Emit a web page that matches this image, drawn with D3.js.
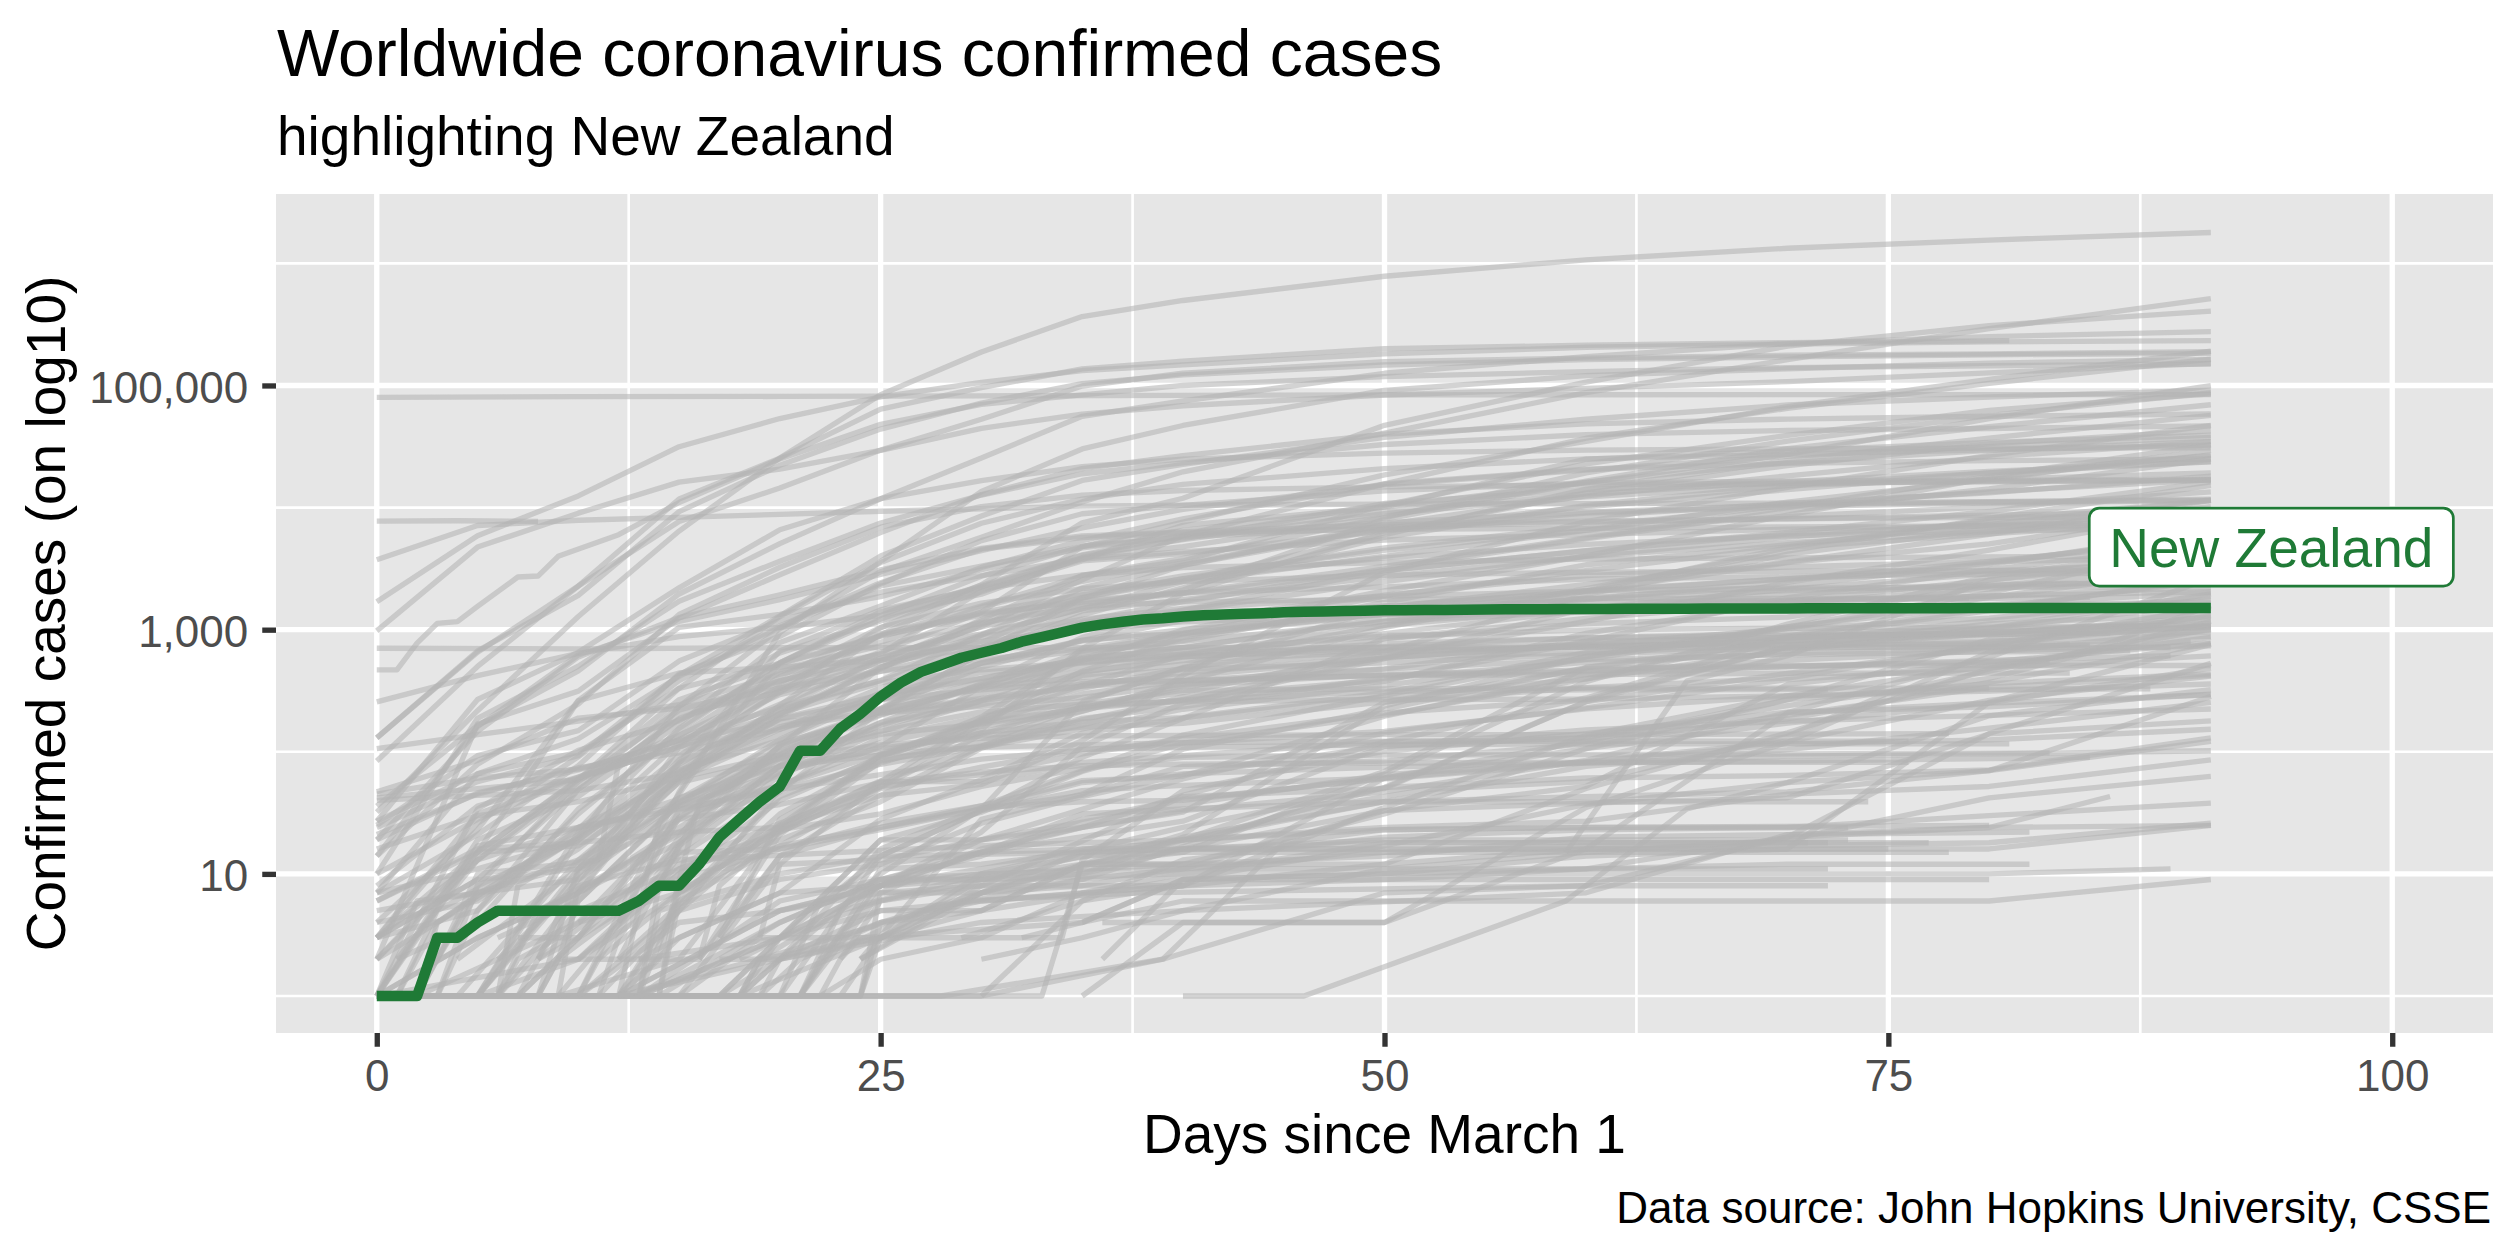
<!DOCTYPE html>
<html>
<head>
<meta charset="UTF-8">
<title>Worldwide coronavirus confirmed cases</title>
<style>
  body { margin: 0; background: #fff; }
  svg { display: block; font-family: 'Liberation Sans', Arial, Helvetica, sans-serif; }
</style>
</head>
<body>
<svg id="chart" width="2520" height="1260"></svg>

<script src="https://cdn.jsdelivr.net/npm/d3@7/dist/d3.min.js"></script>
<script>
  // ---- data: [day since March 1, confirmed cases] ----
  var countries = [
    "US","Brazil","Russia","United Kingdom","Spain","Italy","India","France","Germany","Peru",
    "Turkey","Iran","China","Chile","Canada","Mexico","Saudi Arabia","Pakistan","Belgium","Qatar",
    "Netherlands","Bangladesh","Belarus","Ecuador","Sweden","Singapore","UAE","Portugal","Switzerland","South Africa",
    "Colombia","Kuwait","Indonesia","Ireland","Poland","Ukraine","Egypt","Romania","Philippines","Israel",
    "Japan","Dominican Republic","Austria","Argentina","Afghanistan","Korea, South","Panama","Denmark","Serbia","Kazakhstan",
    "Czechia","Oman","Bahrain","Nigeria","Algeria","Norway","Malaysia","Morocco","Moldova","Ghana",
    "Armenia","Bolivia","Australia","Finland","Cameroon","Iraq","Azerbaijan","Honduras","Sudan","Guatemala",
    "Hungary","Tajikistan","Guinea","Senegal","Djibouti","Thailand","Greece","Uzbekistan","Bosnia","Bulgaria",
    "Croatia","El Salvador","Gabon","Haiti","Cuba","Estonia","Iceland","Lithuania","Kenya","Sri Lanka",
    "Slovakia","Slovenia","Venezuela","Lebanon","Mali","Latvia","Albania","Costa Rica","Georgia","Jordan",
    "Diamond Princess","San Marino","Malta","Taiwan","Mauritius","Vietnam","Montenegro","Uganda","Rwanda","Mongolia",
    "Cambodia","Brunei","Trinidad and Tobago","Bahamas","Monaco","Barbados","Liechtenstein","Bhutan","Fiji","Seychelles",
    "Holy See","Timor-Leste","Belize","Laos","Papua New Guinea","Botswana","Namibia","Burundi","Gambia","Antigua and Barbuda",
    "Grenada","Western Sahara","MS Zaandam","Saint Kitts and Nevis","Dominica","Ethiopia","Zambia","Nepal","Madagascar","Niger",
    "Burkina Faso","Cyprus","Paraguay","Uruguay","Andorra","Jamaica","Tanzania","Togo","Liberia","Kyrgyzstan",
    "Tunisia","Kosovo","Luxembourg","North Macedonia","Somalia","Maldives","Congo (Kinshasa)","Cote d'Ivoire","Equatorial Guinea","Sierra Leone",
    "Chad","Central African Republic","South Sudan","Eswatini","Mozambique","Mauritania","Syria","Libya","Yemen","Burma",
    "Guinea-Bissau","Congo (Brazzaville)","Cabo Verde","Sao Tome and Principe","Malawi","Suriname","Nicaragua","Eritrea","Angola","Saint Vincent",
    "Saint Lucia","Guyana","Republic of Korea","Others"
  ];

  var countryCases = [
    [[0,32],[5,217],[10,1281],[15,6421],[20,25489],[25,83836],[30,188172],[35,366667],[40,496535],[50,784326],[60,1069424],[70,1329260],[80,1551853],[91,1790191]],
    [[0,2],[5,13],[10,52],[15,234],[20,1021],[25,2985],[30,5717],[35,11130],[40,19638],[50,40743],[60,87187],[70,162699],[80,291579],[91,514849]],
    [[0,2],[10,20],[15,93],[20,306],[25,1036],[30,2337],[35,7497],[40,11917],[50,47121],[60,106498],[70,209688],[80,308705],[91,405843]],
    [[0,36],[5,164],[10,460],[15,1960],[20,5067],[25,11812],[30,25481],[35,55949],[40,74605],[50,125856],[60,172481],[70,220449],[80,250908],[91,276156]],
    [[0,84],[5,500],[10,2277],[15,11748],[20,25374],[25,64059],[30,95923],[35,136675],[40,158273],[50,200210],[60,213435],[70,224350],[81,232555]],
    [[0,1694],[5,5883],[10,12462],[15,31506],[20,53578],[25,80589],[30,105792],[35,132547],[40,147577],[50,181228],[60,205463],[70,218268],[80,227364],[91,232997]],
    [[0,3],[5,31],[10,62],[15,137],[20,330],[25,657],[30,1397],[35,4778],[40,7600],[50,18539],[60,34863],[70,67161],[80,112028],[91,190609]],
    [[0,130],[5,653],[10,2281],[15,7699],[20,14459],[25,29551],[30,52827],[35,98984],[40,125931],[50,156480],[60,167299],[70,176782],[80,181700],[91,189220]],
    [[0,130],[5,670],[10,1908],[15,9257],[20,22213],[25,43938],[30,71808],[35,103374],[40,122171],[50,147065],[60,163009],[70,171324],[80,178473],[91,183494]],
    [[5,1],[10,11],[15,86],[20,318],[25,580],[30,1065],[35,2561],[40,5897],[50,15628],[60,36976],[70,65015],[80,104020],[91,164476]],
    [[10,1],[15,47],[20,947],[25,3629],[30,13531],[35,30217],[40,47029],[50,90980],[60,120204],[70,137115],[80,152587],[91,163103]],
    [[0,978],[5,4747],[10,9000],[15,16169],[20,20610],[25,29406],[30,44605],[35,58226],[40,68192],[50,83505],[60,94640],[70,107603],[80,126949],[91,151466]],
    [[0,79968],[10,80932],[20,81305],[30,82279],[40,82941],[50,83817],[60,83956],[70,84010],[80,84063],[91,84128]],
    [[2,1],[3,4],[10,23],[15,156],[20,537],[25,1306],[30,2738],[35,4815],[40,6501],[50,10088],[60,16023],[70,27219],[80,53617],[91,99688]],
    [[0,24],[5,57],[10,93],[15,424],[20,1302],[25,4018],[30,8527],[35,16667],[40,22559],[50,37658],[60,52865],[70,69156],[80,80493],[91,91681]],
    [[0,5],[5,7],[10,12],[15,82],[20,203],[25,475],[30,1215],[35,2785],[40,3844],[50,8261],[60,19224],[70,35022],[80,56594],[91,87512]],
    [[1,1],[3,5],[10,21],[15,118],[20,344],[25,900],[30,1563],[35,2752],[40,3651],[50,10484],[60,22753],[70,39048],[80,62545],[91,85261]],
    [[0,4],[5,6],[10,20],[15,237],[20,646],[25,1179],[30,2039],[35,3864],[40,4788],[50,8418],[60,16473],[70,30334],[80,45898],[91,69496]],
    [[0,2],[5,169],[10,314],[15,1243],[20,2815],[25,6235],[30,12775],[35,20814],[40,26667],[50,39983],[60,48519],[70,53081],[80,55983],[91,58381]],
    [[0,1],[5,15],[10,262],[15,442],[20,494],[25,562],[30,781],[35,1832],[40,2512],[50,6015],[60,14096],[70,24314],[80,37097],[91,56910]],
    [[0,10],[5,188],[10,503],[15,1708],[20,3640],[25,7469],[30,12667],[35,18926],[40,23249],[50,32838],[60,39512],[70,42788],[80,44449],[91,46647]],
    [[7,3],[10,3],[15,10],[20,24],[25,44],[30,54],[35,123],[40,424],[50,2948],[60,7667],[70,14657],[80,26738],[91,47153]],
    [[0,1],[2,6],[10,9],[15,36],[20,76],[25,94],[30,152],[35,700],[40,1981],[50,6264],[60,13181],[70,22052],[80,33371],[91,42556]],
    [[0,6],[5,15],[10,17],[15,58],[20,532],[25,1403],[30,2240],[35,3747],[40,7161],[50,10128],[60,24934],[70,29071],[80,34151],[91,39098]],
    [[0,14],[5,161],[10,620],[15,1167],[20,1763],[25,2840],[30,4435],[35,6830],[40,9685],[50,15322],[60,20302],[70,26322],[80,31523],[91,37542]],
    [[0,106],[5,138],[10,178],[15,243],[20,432],[25,631],[30,926],[35,1481],[40,2108],[50,8014],[60,16169],[70,23336],[80,29364],[91,34884]],
    [[0,21],[5,45],[10,74],[15,98],[20,153],[25,333],[30,664],[35,1799],[40,3360],[50,7265],[60,12481],[70,18198],[80,26004],[91,34557]],
    [[1,2],[5,13],[10,59],[15,331],[20,1280],[25,3544],[30,7443],[35,11730],[40,15472],[50,20863],[60,25045],[70,27268],[80,29660],[91,32500]],
    [[0,27],[5,268],[10,652],[15,2200],[20,6575],[25,11811],[30,16605],[35,21657],[40,24900],[50,27944],[60,29586],[70,30251],[80,30618],[91,30871]],
    [[4,1],[10,13],[15,62],[20,240],[25,927],[30,1353],[35,1686],[40,2003],[50,3300],[60,5647],[70,10015],[80,18003],[91,32683]],
    [[5,1],[10,9],[15,57],[20,196],[25,491],[30,906],[35,1485],[40,2473],[50,3977],[60,6507],[70,11063],[80,16935],[91,29383]],
    [[0,45],[5,61],[10,72],[15,123],[20,176],[25,208],[30,266],[35,556],[40,993],[50,2080],[60,4024],[70,8688],[80,17568],[91,27043]],
    [[1,2],[5,4],[10,34],[15,134],[20,450],[25,790],[30,1528],[35,2491],[40,3512],[50,6760],[60,10118],[70,14032],[80,19189],[91,26473]],
    [[0,1],[5,19],[10,43],[15,169],[20,785],[25,1564],[30,3235],[35,5364],[40,8089],[50,15652],[60,20612],[70,22996],[80,24200],[91,24990]],
    [[3,1],[5,5],[10,31],[15,150],[20,536],[25,1221],[30,2311],[35,4102],[40,5955],[50,9287],[60,12877],[70,16326],[80,19739],[91,23786]],
    [[2,1],[11,1],[12,3],[15,14],[20,47],[25,218],[30,645],[35,1319],[40,2203],[50,5710],[60,10406],[70,15232],[80,19230],[91,23672]],
    [[0,2],[5,15],[10,60],[15,126],[20,294],[25,456],[30,710],[35,1173],[40,1699],[50,3144],[60,5537],[70,9400],[80,14229],[91,24985]],
    [[0,3],[5,9],[10,49],[15,184],[20,367],[25,906],[30,2245],[35,4057],[40,5467],[50,8936],[60,12240],[70,15131],[80,17036],[91,19257]],
    [[0,3],[5,5],[10,49],[15,187],[20,380],[25,636],[30,2084],[35,3660],[40,4195],[50,6459],[60,8488],[70,10794],[80,13221],[91,18086]],
    [[0,7],[5,21],[10,77],[15,433],[20,883],[25,2369],[30,5358],[35,8904],[40,10408],[50,13713],[60,15946],[70,16444],[80,16659],[91,17071]],
    [[0,256],[5,420],[10,639],[15,878],[20,1046],[25,1307],[30,1953],[35,3906],[40,5530],[50,10797],[60,14088],[70,15777],[80,16385],[91,16804]],
    [[0,1],[6,1],[8,5],[15,21],[20,112],[25,488],[30,1109],[35,1828],[40,2620],[50,4680],[60,6972],[70,10347],[80,13477],[91,16908]],
    [[0,14],[5,79],[10,246],[15,1332],[20,3244],[25,6909],[30,10180],[35,12640],[40,13806],[50,14795],[60,15402],[70,15833],[80,16269],[91,16731]],
    [[2,1],[5,8],[10,19],[15,79],[20,225],[25,589],[30,1054],[35,1628],[40,1975],[50,3031],[60,4428],[70,6265],[80,9283],[91,16214]],
    [[0,1],[6,1],[10,7],[15,22],[20,24],[25,94],[30,174],[35,423],[40,521],[50,1092],[60,2171],[70,4402],[80,8145],[91,15205]],
    [[0,3736],[5,7134],[10,7869],[15,8320],[20,8799],[25,9332],[30,9786],[35,10284],[40,10450],[50,10674],[60,10774],[70,10874],[80,11110],[91,11503]],
    [[9,1],[10,8],[15,109],[20,245],[25,558],[30,1181],[35,1988],[40,2752],[50,4467],[60,6532],[70,8448],[80,10116],[91,13463]],
    [[0,4],[5,23],[10,264],[15,1044],[20,1337],[25,1862],[30,3107],[35,4681],[40,5830],[50,7515],[60,9158],[70,10513],[80,11182],[91,11699]],
    [[5,1],[10,19],[15,72],[20,222],[25,384],[30,900],[35,2200],[40,3380],[50,6630],[60,9009],[70,10176],[80,10957],[91,11412]],
    [[12,4],[15,33],[20,53],[25,111],[30,343],[35,662],[40,812],[50,1676],[60,3402],[70,4975],[80,7234],[91,11571]],
    [[0,3],[5,26],[10,91],[15,383],[20,1047],[25,2279],[30,3308],[35,4822],[40,5732],[50,6900],[60,7579],[70,8095],[80,8647],[91,9302]],
    [[0,6],[5,16],[10,18],[15,22],[20,52],[25,131],[30,192],[35,331],[40,484],[50,1508],[60,2348],[70,3573],[80,6043],[91,11437]],
    [[0,47],[5,85],[10,189],[15,228],[20,332],[25,458],[30,569],[35,700],[40,925],[50,1881],[60,3040],[70,4774],[80,7888],[91,11398]],
    [[0,1],[8,1],[9,2],[16,2],[17,8],[20,22],[25,51],[30,139],[35,232],[40,305],[50,665],[60,1932],[70,4151],[80,6677],[91,10162]],
    [[0,1],[5,17],[10,24],[15,60],[20,139],[25,302],[30,716],[35,1423],[40,1761],[50,2718],[60,4006],[70,5723],[80,7542],[91,9394]],
    [[0,19],[5,147],[10,598],[15,1256],[20,1926],[25,3084],[30,4641],[35,5865],[40,6314],[50,7199],[60,7738],[70,8099],[80,8309],[90,8437]],
    [[0,25],[5,93],[10,149],[15,553],[20,1183],[25,2031],[30,2766],[35,3793],[40,4346],[50,5425],[60,6002],[70,6656],[80,7059],[91,7819]],
    [[1,1],[8,1],[9,2],[10,6],[15,37],[20,96],[25,225],[30,638],[35,1141],[40,1448],[50,3046],[60,4423],[70,6063],[80,7214],[91,7807]],
    [[7,1],[10,3],[15,29],[20,94],[25,199],[30,353],[35,864],[40,1438],[50,2472],[60,3980],[70,5154],[80,6340],[91,8360]],
    [[11,2],[15,7],[20,23],[25,93],[30,161],[35,214],[40,378],[50,1042],[60,2074],[70,4700],[80,6096],[91,7881]],
    [[0,1],[12,1],[14,26],[16,78],[20,160],[25,265],[30,532],[35,822],[40,937],[50,1339],[60,2066],[70,3538],[80,5041],[91,9492]],
    [[9,2],[15,11],[20,19],[25,39],[30,107],[35,183],[40,268],[50,598],[60,1167],[70,2437],[80,4481],[91,9592]],
    [[0,27],[5,66],[10,128],[15,414],[20,1072],[25,2423],[30,4559],[35,5687],[40,6203],[50,6619],[60,6766],[70,6941],[80,7079],[91,7195]],
    [[0,3],[5,15],[10,59],[15,267],[20,521],[25,880],[30,1384],[35,1927],[40,2605],[50,3868],[60,4995],[70,5880],[80,6443],[91,6859]],
    [[5,1],[10,2],[15,10],[20,40],[25,91],[30,193],[35,650],[40,803],[50,1163],[60,1832],[70,2267],[80,3529],[91,5904]],
    [[0,19],[5,46],[10,71],[15,124],[20,233],[25,382],[30,694],[35,1031],[40,1279],[50,1539],[60,2085],[70,2603],[80,3404],[91,6439]],
    [[0,3],[5,9],[10,11],[15,28],[20,65],[25,165],[30,298],[35,584],[40,926],[50,1436],[60,1766],[70,2519],[80,3631],[91,5494]],
    [[10,2],[15,12],[20,26],[25,52],[30,172],[35,298],[40,382],[50,477],[60,804],[70,1830],[80,3100],[91,5094]],
    [[12,1],[18,1],[19,2],[25,3],[30,7],[35,12],[40,15],[50,66],[60,375],[70,1111],[80,2728],[91,4800]],
    [[12,1],[15,6],[20,17],[25,24],[30,36],[35,70],[40,137],[50,289],[60,599],[70,1052],[80,2001],[91,5087]],
    [[3,2],[5,7],[10,13],[15,39],[20,103],[25,226],[30,492],[35,817],[40,1190],[50,1916],[60,2775],[70,3263],[80,3607],[91,3876]],
    [[59,15],[65,379],[70,612],[80,2551],[91,4013]],
    [[12,1],[18,1],[19,2],[25,8],[30,22],[35,111],[40,250],[50,579],[60,1495],[70,2146],[80,2863],[91,3844]],
    [[1,1],[3,4],[10,24],[15,36],[20,67],[25,119],[30,175],[35,226],[40,265],[50,377],[60,933],[70,1709],[80,2544],[91,3645]],
    [[17,1],[20,3],[25,14],[30,33],[35,90],[40,187],[50,846],[60,1120],[70,1268],[80,2270],[91,3354]],
    [[0,42],[5,50],[10,59],[15,114],[20,411],[25,1045],[30,1651],[35,2169],[40,2473],[50,2792],[60,2954],[70,3009],[80,3037],[91,3081]],
    [[0,7],[5,66],[10,99],[15,331],[20,530],[25,892],[30,1314],[35,1735],[40,2011],[50,2245],[60,2591],[70,2716],[80,2850],[89,2915]],
    [[14,1],[15,6],[20,43],[25,88],[30,181],[35,457],[40,865],[50,1565],[60,2039],[70,2612],[80,3036],[91,3554]],
    [[4,2],[10,11],[15,38],[20,126],[25,305],[30,533],[35,673],[40,901],[50,1342],[60,1781],[70,2090],[80,2338],[91,2510]],
    [[7,4],[10,7],[15,67],[20,187],[25,293],[30,399],[35,549],[40,635],[50,929],[60,1447],[70,1965],[80,2292],[91,2513]],
    [[0,7],[5,11],[10,19],[15,69],[20,206],[25,495],[30,867],[35,1222],[40,1495],[50,1871],[60,2076],[70,2187],[80,2228],[88,2244]],
    [[17,1],[20,3],[25,19],[30,32],[35,69],[40,117],[50,201],[60,395],[70,889],[80,1498],[91,2517]],
    [[12,1],[20,5],[25,7],[30,16],[35,24],[40,44],[50,120],[60,276],[70,863],[80,1432],[91,2655]],
    [[18,2],[25,8],[30,15],[35,24],[40,33],[50,47],[60,85],[70,209],[80,596],[91,2640]],
    [[10,4],[15,7],[20,25],[25,57],[30,186],[35,350],[40,620],[50,1087],[60,1501],[70,1741],[80,1887],[91,2045]],
    [[0,1],[2,1],[3,2],[5,10],[11,13],[12,79],[15,205],[20,306],[25,538],[30,715],[35,1097],[40,1258],[50,1552],[60,1689],[70,1733],[85,1840]],
    [[0,1],[5,34],[10,103],[15,180],[20,473],[25,737],[30,1135],[35,1562],[40,1689],[50,1771],[60,1797],[70,1802],[79,1803]],
    [[0,1],[7,1],[10,3],[15,17],[20,77],[25,274],[30,537],[35,811],[40,999],[50,1350],[60,1399],[70,1505],[80,1577],[91,1682]],
    [[12,1],[15,3],[20,7],[25,28],[30,59],[35,142],[40,189],[50,281],[60,396],[70,672],[80,1029],[91,1962]],
    [[0,1],[10,1],[11,2],[15,18],[20,77],[25,102],[30,143],[35,176],[40,190],[50,304],[60,649],[70,863],[80,1027],[91,1620]],
    [[5,1],[10,10],[15,63],[20,185],[25,269],[30,400],[35,581],[40,715],[50,1173],[60,1403],[70,1457],[80,1509],[91,1521]],
    [[3,1],[5,8],[10,57],[15,219],[20,383],[25,562],[30,802],[35,997],[40,1160],[50,1335],[60,1439],[70,1460],[84,1469]],
    [[12,2],[15,17],[20,70],[25,107],[30,135],[35,159],[40,171],[50,256],[60,335],[70,402],[80,749],[91,1510]],
    [[0,10],[5,28],[10,61],[15,110],[20,206],[25,368],[30,470],[35,541],[40,609],[50,677],[60,725],[70,809],[80,931],[91,1220]],
    [[24,2],[30,28],[35,45],[40,105],[50,224],[60,490],[70,704],[80,931],[91,1265]],
    [[1,1],[6,1],[7,8],[10,16],[15,71],[20,124],[25,280],[30,446],[35,533],[40,630],[50,727],[60,858],[70,939],[80,1016],[88,1061]],
    [[8,2],[10,10],[15,42],[20,76],[25,174],[30,243],[35,361],[40,416],[50,584],[60,773],[70,868],[80,949],[91,1137]],
    [[5,1],[10,22],[15,41],[20,117],[25,201],[30,347],[35,454],[40,558],[50,660],[60,719],[70,792],[80,903],[91,1047]],
    [[0,3],[5,13],[10,24],[15,34],[20,49],[25,79],[30,110],[35,188],[40,234],[50,402],[60,539],[70,635],[80,721],[90,794]],
    [[1,1],[13,1],[14,8],[16,34],[20,99],[25,212],[30,274],[35,345],[40,381],[50,425],[60,453],[70,562],[80,672],[91,739]],
    [[0,705],[10,696],[20,712],[40,712],[60,712],[80,712],[89,712]],
    [[0,8],[5,36],[10,62],[15,109],[20,160],[25,208],[30,236],[35,279],[40,356],[50,476],[60,569],[70,623],[80,658],[87,670]],
    [[6,3],[10,6],[15,38],[20,90],[25,139],[30,169],[35,227],[40,350],[50,431],[60,465],[70,496],[80,561],[89,612]],
    [[0,40],[5,44],[10,48],[15,67],[20,153],[25,267],[30,322],[35,373],[40,382],[50,420],[60,429],[70,440],[84,441]],
    [[17,3],[20,28],[25,81],[30,143],[35,244],[40,318],[50,328],[60,332],[80,332]],
    [[0,16],[5,30],[10,39],[15,61],[20,94],[25,148],[30,212],[35,245],[40,257],[50,268],[60,270],[70,288],[80,324],[88,328]],
    [[16,2],[20,21],[25,84],[30,120],[35,233],[40,263],[50,313],[60,322],[72,324]],
    [[20,1],[25,14],[30,33],[35,48],[40,53],[50,61],[60,83],[70,121],[80,264],[91,417]],
    [[13,1],[15,7],[20,17],[25,50],[30,75],[35,104],[40,118],[50,147],[60,225],[70,286],[80,314],[91,359]],
    [[9,1],[13,1],[14,5],[20,10],[25,14],[35,15],[40,16],[50,33],[60,38],[70,42],[80,140],[91,179]],
    [[0,1],[6,1],[7,2],[9,3],[14,12],[16,33],[20,53],[25,96],[30,109],[35,114],[40,119],[50,122],[76,122]],
    [[8,1],[10,11],[15,56],[20,88],[25,114],[30,129],[35,135],[40,136],[50,138],[60,138],[78,141]],
    [[11,1],[15,5],[20,49],[25,65],[30,87],[35,104],[40,109],[50,114],[60,116],[81,116]],
    [[14,1],[20,4],[25,9],[30,14],[35,28],[40,41],[50,60],[60,81],[70,92],[80,96],[91,102]],
    [[0,1],[10,2],[15,7],[20,23],[25,31],[30,52],[35,73],[40,90],[50,94],[60,95],[70,96],[83,98]],
    [[16,2],[20,14],[25,24],[30,34],[35,56],[40,66],[50,75],[60,81],[70,84],[85,90]],
    [[2,1],[10,4],[15,28],[20,37],[25,56],[30,68],[35,77],[40,79],[50,81],[60,82],[76,82]],
    [[5,1],[19,1],[20,2],[30,4],[40,5],[60,7],[70,21],[80,24],[86,43]],
    [[18,1],[20,2],[25,5],[30,5],[35,12],[40,16],[50,18],[72,18]],
    [[13,2],[15,3],[20,7],[25,8],[30,10],[40,11],[72,11]],
    [[5,1],[24,1],[25,4],[30,6],[35,7],[40,8],[50,9],[60,11],[70,12],[82,12]],
    [[20,1],[30,1],[39,2],[45,18],[50,23],[60,24],[73,24]],
    [[22,1],[25,2],[30,3],[35,7],[40,10],[50,18],[77,18]],
    [[23,2],[25,6],[30,9],[35,10],[40,16],[50,19],[73,19]],
    [[19,1],[28,1],[39,2],[50,7],[60,8],[72,8]],
    [[29,3],[35,6],[40,13],[50,20],[60,23],[70,24],[80,30],[91,38]],
    [[13,2],[20,3],[25,8],[30,11],[35,16],[80,16],[91,25]],
    [[30,2],[35,3],[40,5],[50,11],[60,15],[70,19],[80,42],[91,63]],
    [[16,1],[22,1],[23,2],[24,3],[35,4],[40,9],[50,10],[60,11],[70,20],[80,24],[91,25]],
    [[12,1],[24,1],[25,7],[30,7],[35,15],[40,19],[50,23],[60,24],[80,25]],
    [[21,1],[25,9],[30,9],[35,12],[40,12],[50,14],[60,20],[70,21],[82,22]],
    [[35,4],[40,6],[80,6],[91,9]],
    [[36,2],[40,9],[80,9]],
    [[24,2],[30,7],[35,8],[40,11],[50,15],[78,15]],
    [[21,1],[25,11],[30,12],[35,15],[40,16],[75,16]],
    [[12,1],[15,5],[20,9],[25,12],[30,26],[35,43],[40,65],[50,111],[60,131],[70,239],[80,399],[91,1172]],
    [[17,2],[20,2],[25,16],[30,35],[35,39],[40,40],[50,61],[60,106],[70,267],[80,832],[91,1057]],
    [[0,1],[21,1],[22,2],[27,5],[35,9],[45,31],[52,49],[60,57],[70,134],[75,304],[80,457],[85,682],[91,1572]],
    [[19,3],[20,12],[25,57],[30,57],[35,82],[40,93],[50,121],[60,128],[70,186],[80,371],[91,771]],
    [[18,1],[20,2],[25,10],[30,34],[35,253],[40,491],[50,657],[60,719],[70,815],[80,914],[91,958]],
    [[8,2],[15,15],[20,64],[25,146],[30,261],[35,345],[40,443],[50,600],[60,645],[70,751],[80,809],[91,881]],
    [[8,2],[10,3],[15,33],[20,84],[25,162],[30,262],[35,446],[40,595],[50,767],[60,857],[70,898],[86,940]],
    [[6,1],[10,5],[15,11],[20,22],[25,52],[30,65],[35,96],[40,129],[50,208],[60,266],[70,724],[80,788],[91,1087]],
    [[12,4],[15,29],[20,110],[25,217],[30,338],[35,406],[40,473],[50,535],[60,630],[70,707],[85,746]],
    [[1,1],[12,1],[14,2],[16,39],[20,88],[25,224],[30,376],[35,501],[40,601],[50,717],[60,745],[70,754],[84,762]],
    [[9,1],[15,15],[20,16],[25,26],[30,36],[35,58],[40,63],[50,196],[60,432],[70,502],[83,556]],
    [[15,1],[20,12],[25,13],[30,19],[35,24],[40,32],[50,254],[60,480],[70,509],[91,509]],
    [[5,1],[14,1],[15,9],[20,16],[25,23],[30,34],[35,44],[40,76],[50,84],[60,116],[70,199],[80,338],[91,422]],
    [[15,1],[19,3],[34,3],[35,13],[40,48],[50,101],[60,141],[70,211],[80,233],[91,296]],
    [[17,3],[20,14],[25,44],[30,111],[35,216],[40,339],[50,590],[60,746],[70,1016],[80,1243],[91,1871]],
    [[1,1],[7,1],[8,2],[10,7],[15,24],[20,75],[25,173],[30,362],[35,596],[40,671],[50,884],[60,994],[70,1030],[80,1048],[91,1087]],
    [[12,2],[20,31],[25,86],[30,112],[35,165],[40,283],[50,386],[60,799],[70,861],[80,955],[91,1064]],
    [[0,1],[5,3],[10,7],[15,81],[20,670],[25,1453],[30,2178],[35,2804],[40,3223],[50,3550],[60,3784],[70,3871],[86,4001]],
    [[0,1],[5,3],[10,7],[15,18],[20,114],[25,219],[30,329],[35,570],[40,711],[50,1231],[60,1465],[70,1694],[80,1878],[91,2226]],
    [[15,1],[24,1],[25,3],[30,5],[35,12],[40,21],[50,237],[60,601],[70,1054],[80,1594],[91,2023]],
    [[6,2],[10,8],[15,13],[30,17],[40,19],[50,69],[60,491],[70,804],[80,1186],[91,1773]],
    [[9,1],[15,2],[20,23],[25,58],[30,109],[35,154],[40,223],[50,350],[60,572],[70,1024],[80,1835],[91,3195]],
    [[10,1],[15,5],[20,25],[25,96],[30,179],[35,261],[40,480],[50,847],[60,1238],[70,1667],[80,2153],[91,2799]],
    [[13,1],[20,6],[25,9],[30,15],[35,16],[40,18],[50,51],[60,258],[70,439],[80,719],[91,1306]],
    [[30,1],[35,6],[40,8],[50,35],[60,136],[70,287],[80,505],[91,864]],
    [[18,1],[25,3],[30,7],[35,9],[40,11],[50,33],[60,52],[70,357],[80,545],[91,781]],
    [[13,1],[20,3],[25,6],[30,8],[40,8],[50,12],[60,50],[70,143],[80,479],[91,1011]],
    [[35,1],[40,4],[50,4],[60,35],[70,120],[80,655],[91,994]],
    [[13,1],[20,4],[25,9],[40,12],[50,31],[60,106],[70,172],[80,250],[91,293]],
    [[21,1],[25,7],[30,8],[35,10],[40,20],[50,39],[60,76],[70,104],[80,156],[91,254]],
    [[12,1],[19,2],[29,6],[38,7],[60,8],[70,20],[80,141],[91,530]],
    [[21,1],[23,5],[30,10],[40,19],[50,39],[60,43],[70,47],[80,70],[91,122]],
    [[23,1],[25,3],[30,10],[40,24],[50,51],[60,61],[70,64],[80,71],[91,130]],
    [[40,1],[46,1],[59,6],[65,34],[70,56],[80,197],[91,323]],
    [[22,2],[25,8],[30,15],[40,27],[50,111],[60,151],[70,178],[80,199],[91,224]],
    [[24,2],[30,8],[40,43],[50,50],[60,257],[70,726],[80,1114],[91,1339]],
    [[13,1],[20,3],[25,19],[30,19],[40,60],[50,143],[60,229],[70,391],[80,487],[91,611]],
    [[18,1],[20,3],[25,5],[30,6],[40,8],[50,61],[60,122],[70,267],[80,362],[91,435]],
    [[36,4],[50,4],[60,16],[70,208],[80,251],[91,484]],
    [[32,3],[35,4],[40,9],[50,17],[60,37],[70,56],[80,70],[91,284]],
    [[12,1],[20,5],[25,8],[30,9],[40,10],[80,10],[89,11]],
    [[17,1],[20,2],[25,4],[30,5],[40,9],[50,10],[60,14],[70,16],[80,254],[91,759]],
    [[20,1],[22,6],[25,12],[30,15],[35,31],[40,34],[50,39],[74,39]],
    [[19,1],[21,2],[25,4],[30,7],[40,19],[50,24],[60,27],[70,45],[80,52],[91,86]],
    [[10,1],[33,1],[35,12],[50,12],[60,16],[70,17],[80,18],[91,26]],
    [[12,1],[20,2],[25,3],[30,9],[35,14],[40,15],[50,15],[60,17],[71,18]],
    [[10,1],[15,4],[20,5],[25,8],[30,19],[40,37],[50,65],[60,82],[70,116],[80,125],[91,153]],
    [[0,7750],[4,7800],[8,7700]],
    [[0,468],[1,468],[2,775],[3,1125],[4,1164],[5,1550],[7,2700],[8,2750],[9,3990],[12,6000],[15,11000],[20,25000],[25,48000],[30,70000],[40,100000],[50,118000],[60,130000],[70,140000],[80,145000],[91,150000]]
  ];

  // New Zealand, one value per day from March 1 (day 0) to May 31 (day 91)
  var highlightName = "New Zealand";
  var nzCases = [
    1,1,1,3,3,4,5,5,5,5,5,5,5,6,8,8,12,20,28,39,52,102,102,155,205,283,368,451,514,589,647,
    708,797,868,950,1039,1106,1160,1210,1239,1283,1312,1330,1349,1366,1386,1401,1409,1422,1431,1440,
    1445,1451,1451,1456,1461,1470,1470,1472,1474,1476,
    1479,1485,1485,1487,1487,1488,1489,1490,1492,1494,1497,1497,1497,1497,1498,1499,1499,1499,
    1503,1503,1503,1504,1504,1504,1504,1504,1504,1504,1504,1504,1504
  ];

  var xBreaks = [0, 25, 50, 75, 100]
    , xMinor = [12.5, 37.5, 62.5, 87.5]
    , yBreaks = [10, 1000, 100000]
    , yMinor = [1, 100, 10000, 1000000]
  ;
  var labelAt = {day: 94.0, cases: 4750};   // where the country label sits

  // ---- layout ----
  var panel = {left: 276, right: 2493, top: 194, bottom: 1033}
    , green = "#1f7a36"
    , tickLen = 13.75
    , lineW = 5.33
  ;

  var x = d3.scaleLinear().domain([-5, 105]).range([panel.left, panel.right]);
  var y = d3.scaleLog()
      .domain([Math.pow(10, -0.303), Math.pow(10, 6.568)])
      .range([panel.bottom, panel.top]);

  var svg = d3.select("#chart");
  svg.append("rect").attr("width", 2520).attr("height", 1260).attr("fill", "#fff");

  // panel + grid
  svg.append("rect")
      .attr("x", panel.left).attr("y", panel.top)
      .attr("width", panel.right - panel.left).attr("height", panel.bottom - panel.top)
      .attr("fill", "#e6e6e6");

  var grid = svg.append("g").attr("stroke", "#fff").attr("fill", "none");
  grid.selectAll(".vmin").data(xMinor).join("line")
      .attr("x1", x).attr("x2", x).attr("y1", panel.top).attr("y2", panel.bottom)
      .attr("stroke-width", lineW / 2);
  grid.selectAll(".hmin").data(yMinor).join("line")
      .attr("y1", y).attr("y2", y).attr("x1", panel.left).attr("x2", panel.right)
      .attr("stroke-width", lineW / 2);
  grid.selectAll(".vmaj").data(xBreaks).join("line")
      .attr("x1", x).attr("x2", x).attr("y1", panel.top).attr("y2", panel.bottom)
      .attr("stroke-width", lineW);
  grid.selectAll(".hmaj").data(yBreaks).join("line")
      .attr("y1", y).attr("y2", y).attr("x1", panel.left).attr("x2", panel.right)
      .attr("stroke-width", lineW);

  var line = d3.line()
      .x(function(d) { return x(d[0]); })
      .y(function(d) { return y(d[1]); });

  // every other country in grey
  svg.append("g")
      .attr("fill", "none")
      .attr("stroke", "#b3b3b3")
      .attr("stroke-opacity", 0.58)
      .attr("stroke-width", lineW)
      .attr("stroke-linejoin", "round")
    .selectAll("path")
    .data(countryCases)
    .join("path")
      .attr("data-country", function(d, i) { return countries[i]; })
      .attr("d", line);

  // highlighted country
  svg.append("path")
      .datum(nzCases.map(function(v, i) { return [i, v]; }))
      .attr("fill", "none")
      .attr("stroke", green)
      .attr("stroke-width", 10.5)
      .attr("stroke-linejoin", "round")
      .attr("d", line);

  // label
  var lx = x(labelAt.day), ly = y(labelAt.cases);
  var lab = svg.append("g");
  var labRect = lab.append("rect");
  var labText = lab.append("text")
      .attr("x", lx).attr("y", ly + 20)
      .attr("text-anchor", "middle")
      .attr("font-size", 55)
      .attr("fill", green)
      .text(highlightName);
  var tw = labText.node().getComputedTextLength();
  labRect
      .attr("x", lx - tw / 2 - 20).attr("y", ly - 39)
      .attr("width", tw + 40).attr("height", 78)
      .attr("rx", 10).attr("ry", 10)
      .attr("fill", "#fff")
      .attr("stroke", green)
      .attr("stroke-width", 2.7);

  // axes
  var xAxis = svg.append("g")
      .attr("transform", "translate(0," + panel.bottom + ")")
      .call(d3.axisBottom(x).tickValues(xBreaks).tickSize(tickLen).tickPadding(13));
  var yAxis = svg.append("g")
      .attr("transform", "translate(" + panel.left + ",0)")
      .call(d3.axisLeft(y).tickValues(yBreaks).tickFormat(d3.format(","))
              .tickSize(tickLen).tickPadding(14));

  [xAxis, yAxis].forEach(function(ax) {
      ax.select(".domain").remove();
      ax.selectAll(".tick line").attr("stroke", "#333333").attr("stroke-width", lineW);
      ax.selectAll(".tick text")
          .attr("fill", "#4d4d4d")
          .attr("font-size", 44)
          .attr("font-family", "'Liberation Sans', Arial, sans-serif");
  });
  yAxis.selectAll(".tick text").attr("dy", "0.38em");

  // titles
  svg.append("text").attr("x", 277).attr("y", 76)
      .attr("font-size", 66).attr("fill", "#000")
      .text("Worldwide coronavirus confirmed cases");
  svg.append("text").attr("x", 277).attr("y", 155)
      .attr("font-size", 55).attr("fill", "#000")
      .text("highlighting New Zealand");
  svg.append("text")
      .attr("x", (panel.left + panel.right) / 2).attr("y", 1153)
      .attr("text-anchor", "middle")
      .attr("font-size", 55).attr("fill", "#000")
      .text("Days since March 1");
  svg.append("text")
      .attr("transform", "translate(65," + ((panel.top + panel.bottom) / 2) + ") rotate(-90)")
      .attr("text-anchor", "middle")
      .attr("font-size", 55).attr("fill", "#000")
      .text("Confirmed cases (on log10)");
  svg.append("text")
      .attr("x", 2491).attr("y", 1223)
      .attr("text-anchor", "end")
      .attr("font-size", 44).attr("fill", "#000")
      .text("Data source: John Hopkins University, CSSE");
</script>
</body>
</html>
